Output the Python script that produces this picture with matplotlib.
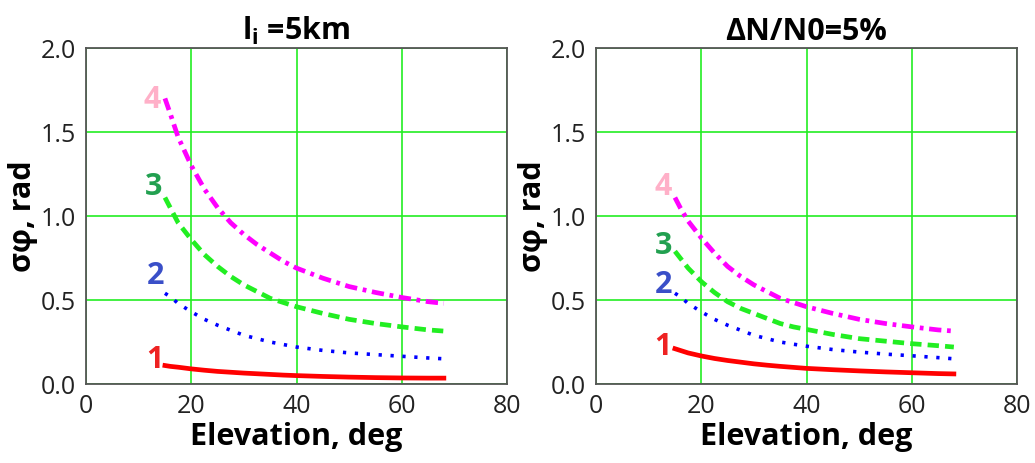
import matplotlib
matplotlib.use("Agg")
import matplotlib.pyplot as plt

plt.rcParams['font.family'] = ['Open Sans', 'DejaVu Sans']
plt.rcParams['mathtext.fontset'] = 'dejavuserif'

elev = [15, 16, 17.5, 20, 22.5, 25, 27.5, 30, 32.5, 35, 37.5, 40, 45, 50, 55, 60, 65, 68]

# left panel: l_i = 5 km
left_1 = [0.11, 0.105, 0.10, 0.09, 0.082, 0.075, 0.07, 0.065, 0.061, 0.057, 0.053, 0.05, 0.045, 0.041, 0.038, 0.036, 0.035, 0.035]
left_2 = [0.54, 0.52, 0.48, 0.43, 0.385, 0.35, 0.32, 0.29, 0.27, 0.25, 0.235, 0.22, 0.20, 0.185, 0.175, 0.165, 0.155, 0.15]
left_3 = [1.11, 1.05, 0.96, 0.86, 0.77, 0.70, 0.64, 0.59, 0.55, 0.51, 0.485, 0.46, 0.42, 0.385, 0.36, 0.34, 0.322, 0.315]
left_4 = [1.70, 1.61, 1.47, 1.30, 1.16, 1.05, 0.96, 0.89, 0.83, 0.78, 0.73, 0.69, 0.63, 0.58, 0.545, 0.515, 0.49, 0.48]

# right panel: dN/N0 = 5%
right_1 = [0.21, 0.20, 0.185, 0.167, 0.152, 0.14, 0.13, 0.12, 0.112, 0.105, 0.099, 0.093, 0.085, 0.078, 0.072, 0.067, 0.062, 0.06]
right_2 = [0.54, 0.52, 0.48, 0.43, 0.385, 0.35, 0.32, 0.29, 0.27, 0.25, 0.237, 0.225, 0.205, 0.19, 0.178, 0.168, 0.157, 0.15]
right_3 = [0.79, 0.75, 0.69, 0.61, 0.545, 0.49, 0.45, 0.42, 0.39, 0.36, 0.34, 0.325, 0.295, 0.27, 0.255, 0.24, 0.228, 0.22]
right_4 = [1.11, 1.05, 0.97, 0.87, 0.78, 0.70, 0.64, 0.59, 0.55, 0.51, 0.485, 0.46, 0.42, 0.385, 0.36, 0.34, 0.322, 0.315]

curve_labels = ['1', '2', '3', '4']
label_colors = ['#ee2222', '#3a4fc8', '#22a050', '#ffb0c8']
line_colors = ['#ff0000', '#0000ff', '#22ee22', '#ff00ff']
line_dashes = [None, (0.9, 2.4), (2.4, 1.3), (2.6, 1.2, 0.8, 1.2)]
line_widths = [3.4, 2.6, 3.4, 3.4]

left_label_pos = [(13.0, 0.14), (13.2, 0.64), (12.8, 1.17), (12.6, 1.69)]
right_label_pos = [(12.8, 0.22), (12.8, 0.59), (12.8, 0.82), (12.8, 1.17)]

titles = [r'l$_\mathregular{i}$ =5km', 'ΔN/N0=5%']
xticks = [0, 20, 40, 60, 80]
yticks = [0.0, 0.5, 1.0, 1.5, 2.0]

fig = plt.figure(figsize=(10.35, 4.63), dpi=100)
ax_l = fig.add_axes([86/1035, 1-384/463, 421/1035, 336/463])
ax_r = fig.add_axes([596/1035, 1-384/463, 421/1035, 336/463])

panels = [
    (ax_l, [left_1, left_2, left_3, left_4], left_label_pos, titles[0]),
    (ax_r, [right_1, right_2, right_3, right_4], right_label_pos, titles[1]),
]

for ax, series, lpos, title in panels:
    for ys, c, d, lw in zip(series, line_colors, line_dashes, line_widths):
        ln, = ax.plot(elev, ys, color=c, linewidth=lw, zorder=3)
        if d is not None:
            ln.set_dashes(d)
    for (x, y), t, c in zip(lpos, curve_labels, label_colors):
        ax.text(x, y, t, color=c, fontsize=22, fontweight='bold',
                ha='center', va='center', zorder=4)
    ax.set_xlim(0, 80)
    ax.set_ylim(0, 2.0)
    ax.set_xticks(xticks)
    ax.set_yticks(yticks)
    ax.set_yticklabels([f'{v:.1f}' for v in yticks])
    ax.grid(True, color='#22ee22', linewidth=1.2, zorder=1)
    ax.tick_params(length=0, labelsize=18, pad=7, colors='#222222')
    for sp in ax.spines.values():
        sp.set_color('#555555')
        sp.set_linewidth(1.3)
    ax.set_xlabel('Elevation, deg', fontsize=22, fontweight='bold', labelpad=2)
    ax.set_ylabel('σφ, rad', fontsize=22, fontweight='bold', labelpad=2)
    ax.set_title(title, fontsize=22, fontweight='bold', pad=6)

fig.savefig('out.png', dpi=100)
